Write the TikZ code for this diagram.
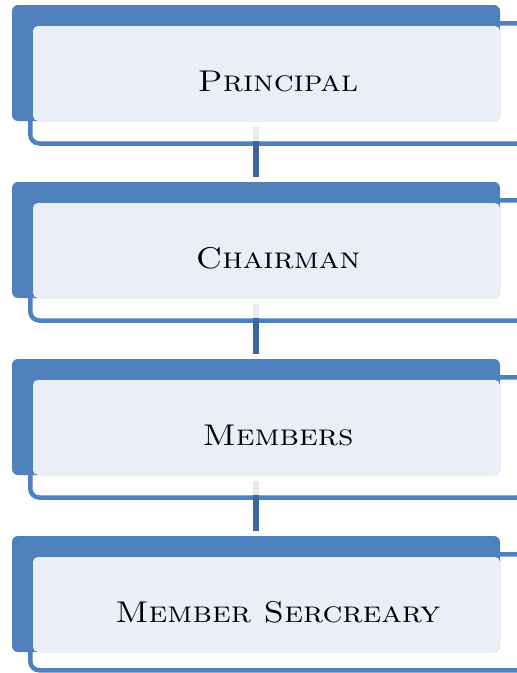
\documentclass[tikz,border=0pt]{standalone}
\usetikzlibrary{calc}
\definecolor{accent}{HTML}{4F81BD}
\definecolor{facefill}{HTML}{EAEFF7}
\definecolor{conndark}{HTML}{3C6697}
\definecolor{connlight}{HTML}{E6EBF3}
\tikzset{
  backbox/.style={fill=accent, rounded corners=6pt, inner sep=0pt, outer sep=0pt,
    minimum width=488pt, minimum height=116pt},
  framebox/.style={draw=accent, line width=4.5pt, fill=white, rounded corners=9pt, inner sep=0pt, outer sep=0pt,
    minimum width=495.5pt},
  facebox/.style={fill=facefill, rounded corners=5pt, inner sep=0pt, outer sep=0pt,
    minimum width=467pt, minimum height=95pt},
  lbl/.style={anchor=base, inner sep=0pt, font=\fontsize{30}{36}\selectfont\scshape},
  conn/.style={draw=conndark, line width=5.5pt},
  connl/.style={draw=connlight, line width=5.5pt}
}
\begin{document}
\begin{tikzpicture}[x=1pt,y=-1pt]
\useasboundingbox (0,0) rectangle (517,673);
\foreach \k/\t/\fh in {1/Principal/120.25,2/Chairman/120.25,3/Members/120.25,4/Member Sercreary/116}{
  \pgfmathsetmacro{\o}{5+177*(\k-1)}
  \pgfmathsetmacro{\fc}{\o+18.25+\fh/2}
  \node[framebox, minimum height=\fh pt] (frame\k) at (278,\fc) {};
  \node[backbox] (back\k) at (256,\o+58) {};
  \node[facebox] (face\k) at (266.5,\o+68.5) {};
  \node[lbl] (label\k) at (278,\o+86.5) {\scalebox{1.12}[1]{\t}};
}
\foreach \a/\b in {1/2,2/3,3/4}{
  \draw[conn] ([yshift=-6pt]back\a.south) -- ([yshift=5pt]back\b.north);
  \draw[connl] ([yshift=-6pt]back\a.south) -- ([yshift=2.25pt]frame\a.south -| back\a.south);
}
\end{tikzpicture}
\end{document}
